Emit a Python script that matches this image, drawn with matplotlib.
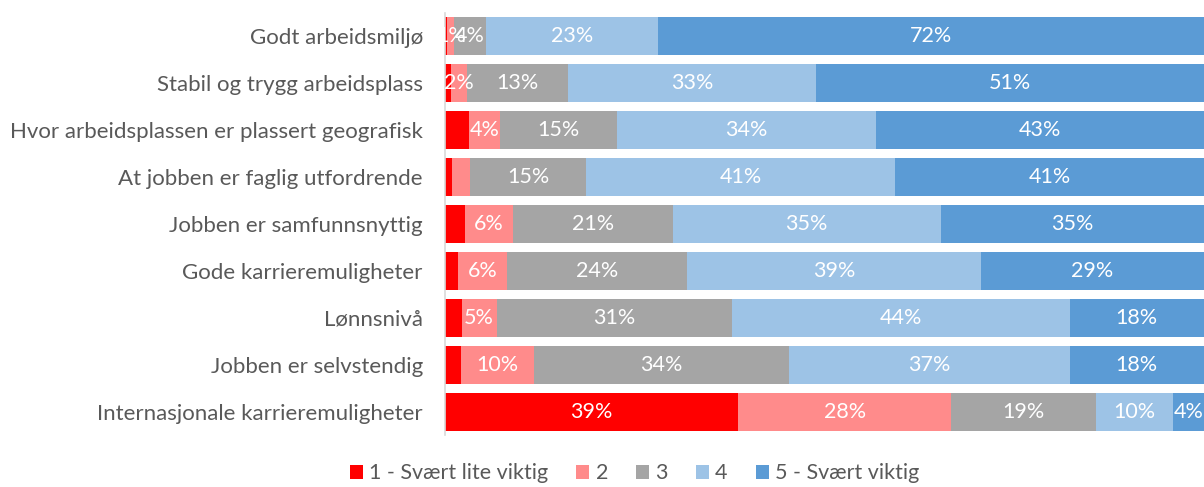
import numpy as np
import matplotlib.pyplot as plt
from matplotlib.patches import Patch

# Categories (top to bottom)
categories = [
    "Godt arbeidsmiljø",
    "Stabil og trygg arbeidsplass",
    "Hvor arbeidsplassen er plassert geografisk",
    "At jobben er faglig utfordrende",
    "Jobben er samfunnsnyttig",
    "Gode karrieremuligheter",
    "Lønnsnivå",
    "Jobben er selvstendig",
    "Internasjonale karrieremuligheter",
]

# Share of answers (%) per importance level
lvl1 = [0.3, 0.8, 3.2, 0.9, 2.6, 1.7, 2.2, 2.1, 38.6]
lvl2 = [0.9, 2.1, 4.0, 2.4, 6.3, 6.5, 4.6, 9.6, 28.1]
lvl3 = [4.2, 13.3, 15.4, 15.3, 21.1, 23.7, 31.0, 33.6, 19.1]
lvl4 = [22.6, 32.7, 34.2, 40.7, 35.3, 38.7, 44.5, 37.0, 10.1]
lvl5 = [72.0, 51.1, 43.2, 40.7, 34.7, 29.4, 17.7, 17.7, 4.1]

series_names = ["1 - Svært lite viktig", "2", "3", "4", "5 - Svært viktig"]
colors = ["#FF0000", "#FF8B8B", "#A5A5A5", "#9DC3E6", "#5B9BD5"]

# which data labels were left out in the original chart
hide_labels = {
    0: [0, 1, 2, 3, 4, 5, 6, 7],
    1: [3],
}

plt.rcParams['font.family'] = ['Lato', 'DejaVu Sans']

fig = plt.figure(figsize=(12.04, 4.87), dpi=100)
ax = fig.add_axes([0.3696, 0.106, 0.6304, 0.868])

data = [lvl1, lvl2, lvl3, lvl4, lvl5]
y = np.arange(len(categories))
left = np.zeros(len(categories))
for i, vals in enumerate(data):
    vals = np.array(vals)
    ax.barh(y, vals, left=left, height=0.81, color=colors[i], edgecolor='none')
    for j, v in enumerate(vals):
        if j in hide_labels.get(i, []):
            continue
        ax.text(left[j] + v / 2, y[j], f"{round(v):.0f}%", ha='center', va='center',
                color='white', fontsize=15.5)
    left += vals

ax.set_yticks(y)
ax.set_yticklabels(categories, fontsize=16, color='#595959')
ax.set_ylim(len(categories) - 0.5, -0.5)
ax.set_xlim(0, 100)
ax.tick_params(axis='y', length=0, pad=16)
ax.set_xticks([])
for s in ['top', 'right', 'bottom']:
    ax.spines[s].set_visible(False)
ax.spines['left'].set_color('#D9D9D9')
ax.spines['left'].set_linewidth(1.2)

handles = [Patch(facecolor=c, edgecolor='none') for c in colors]
fig.legend(handles, series_names, loc='center', bbox_to_anchor=(0.527, 0.028),
           ncol=5, frameon=False, fontsize=15.5, labelcolor='#595959',
           handlelength=0.6, handleheight=0.6, handletextpad=0.3, columnspacing=1.3)

fig.savefig("out.png", dpi=100)
